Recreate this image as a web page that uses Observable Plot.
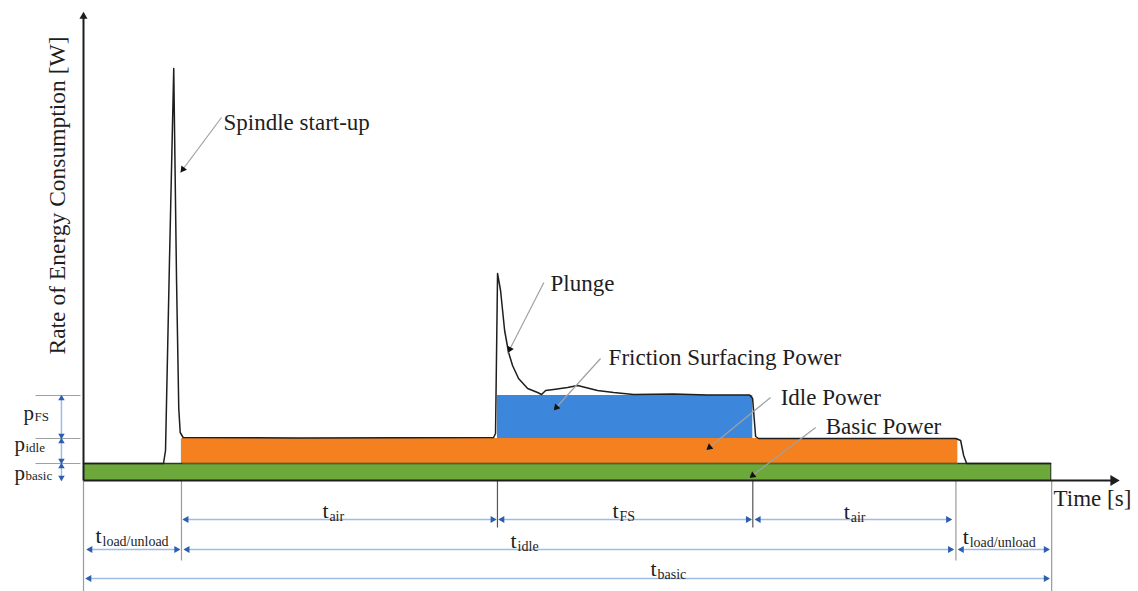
<!DOCTYPE html>
<html>
<head>
<meta charset="utf-8">
<script src="https://cdn.jsdelivr.net/npm/d3@7"></script>
<script src="https://cdn.jsdelivr.net/npm/@observablehq/plot@0.6"></script>
<style>
  html, body { margin: 0; padding: 0; background: #ffffff; }
  #chart svg { display: block; }
</style>
</head>
<body>
<div id="chart"></div>
<script>
// ---- Power bands (time in s, power in W, schematic units) ----
const bandNames = ["basic", "idle", "fs"];
const bandStart = [0, 10.2, 42.8];
const bandEnd   = [100, 90.4, 69.2];
const bandLow   = [0, 4.25, 10.5];
const bandHigh  = [4.25, 10.5, 21.25];

// ---- Measured power curve ----
const curveT = [0, 8.27, 8.48, 8.89, 9.33, 9.62, 9.85, 10.0, 10.3, 22.44, 42.4, 42.6, 42.81, 43.12, 43.54, 43.95, 44.36, 44.98, 45.92, 46.95, 47.36, 47.78, 48.6, 50.05, 51.09, 51.91, 53.15, 54.81, 56.88, 61.01, 64.53, 68.87, 69.18, 69.49, 69.8, 90.18, 90.69, 91.0, 91.31, 100];
const curveP = [4.25, 4.25, 7.5, 55, 103, 50, 18, 12, 10.75, 10.6, 10.75, 11.75, 51.75, 47.5, 37.5, 32, 28.75, 25.5, 23, 22, 21.5, 22.5, 22.75, 23.25, 23.75, 23.25, 22.5, 22, 21.5, 21.6, 21.4, 21.4, 20.5, 11, 10.5, 10.5, 10, 6.25, 4.25, 4.25];

// ---- Annotations ----
const annText  = ["Spindle start-up", "Plunge", "Friction Surfacing Power", "Idle Power", "Basic Power"];
const annTextT = [14.48, 48.29, 54.29, 72.08, 76.73];
const annTextP = [89.5, 49.25, 30.75, 20.75, 13.5];
const annFromT = [14.27, 47.6, 53.46, 71.04, 75.7];
const annFromP = [90.75, 49.5, 30.5, 20.75, 13.25];
const annTipT  = [10.03, 43.85, 48.6, 64.32, 68.77];
const annTipP  = [77, 31.75, 17.5, 7.5, 0.5];

// ---- Time dimensions ----
const dimSub    = ["air", "FS", "air", "load/unload", "idle", "load/unload", "basic"];
const dimStart  = [10.34, 43.0, 69.5, 0.4, 10.45, 90.5, 0.3];
const dimEnd    = [42.6, 69.0, 89.7, 9.9, 89.9, 99.8, 99.8];
const dimLevel  = [-9.75, -9.75, -9.75, -17.25, -17.25, -17.25, -24.5];
const dimLabelT = [24.7, 54.7, 78.6, 1.24, 44.16, 90.9, 58.63];
const dimLabelP = [-7.5, -7.5, -7.75, -13.75, -15, -14, -22];

// ---- Power dimensions ----
const pSub    = ["FS", "idle", "basic"];
const pLow    = [10.5, 4.25, 0];
const pHigh   = [21.25, 10.5, 4.25];
const pLabelT = [-6.2, -7.14, -7.14];
const pLabelP = [16.75, 9.0, 1.9];
const pDimT = -2.28;
const pExtStart = -4.96, pExtEnd = -0.31;

// ---- Extension lines below the time axis ----
const extT      = [0, 10.13, 42.8, 69.2, 90.2, 100.1];
const extTop    = [0, 10.5, 10.5, 10.5, 4.25, 0];
const extBottom = [-27.75, -20, -11.75, -11.75, -20, -27.75];
const extDark   = [false, false, true, true, false, false];

// axis extents
const tMax = 106.7, pMax = 116.5;

// ---------- build tables ----------
const bands = bandNames.map((n, i) => ({name: n, x1: bandStart[i], x2: bandEnd[i], y1: bandLow[i], y2: bandHigh[i]}));
const curve = curveT.map((t, i) => ({t, p: curveP[i]}));
const W = 1138, H = 591, mL = 83, mR = 23, mT = 14, mB = 111;
const kx = (W - mL - mR) / tMax, ky = (H - mT - mB) / pMax;
const ann = annText.map((s, i) => {
  const dx = (annTipT[i] - annFromT[i]) * kx, dy = -(annTipP[i] - annFromP[i]) * ky;
  const f = 0.94;
  return {s, tx: annTextT[i], ty: annTextP[i], x1: annFromT[i], y1: annFromP[i], x2: annTipT[i], y2: annTipP[i],
    hx: annFromT[i] + f * (annTipT[i] - annFromT[i]), hy: annFromP[i] + f * (annTipP[i] - annFromP[i]),
    rot: Math.atan2(dx, -dy) * 180 / Math.PI};
});
const dims = dimSub.map((s, i) => ({s, x1: dimStart[i], x2: dimEnd[i], y: dimLevel[i], lx: dimLabelT[i], ly: dimLabelP[i]}));
const dimHeads = dims.flatMap(d => [
  {x: d.x1 + 0.3, y: d.y, r: -90},
  {x: d.x2 - 0.3, y: d.y, r: 90}
]);
const pDims = pSub.map((s, i) => ({s, y1: pLow[i], y2: pHigh[i], lx: pLabelT[i], ly: pLabelP[i]}));
const pHeads = pDims.flatMap(d => [
  {x: pDimT, y: d.y2 - 0.75, r: 0},
  {x: pDimT, y: d.y1 + 0.75, r: 180}
]);
const exts = extT.map((t, i) => ({t, y1: extTop[i], y2: extBottom[i], dark: extDark[i]}));

const font = "Liberation Serif, Times New Roman, serif";
const ink = "#1e1e1e";

const chart = Plot.plot({
  width: W, height: H,
  marginLeft: mL, marginRight: mR, marginTop: mT, marginBottom: mB,
  x: {domain: [0, tMax], axis: null},
  y: {domain: [0, pMax], axis: null},
  color: {domain: bandNames, range: ["#6da83a", "#f5801f", "#3c87dc"]},
  style: {fontFamily: font, background: "#ffffff", color: ink},
  marks: [
    // extension lines
    Plot.link(exts, {x1: "t", x2: "t", y1: "y1", y2: "y2", stroke: d => d.dark ? "#555" : "#9a9a9a", strokeWidth: 1.2}),
    // power bands
    Plot.rect(bands, {x1: "x1", x2: "x2", y1: "y1", y2: "y2", fill: "name"}),
    Plot.link(bands.filter(b => b.name === "basic"), {x1: "x1", x2: "x2", y1: "y2", y2: "y2", stroke: "#2c3d1c", strokeWidth: 1.5}),
    Plot.link(bands.filter(b => b.name === "basic"), {x1: "x2", x2: "x2", y1: "y1", y2: "y2", stroke: "#2c3d1c", strokeWidth: 1.2}),
    Plot.link(bands.filter(b => b.name === "idle"), {x1: "x1", x2: "x2", y1: "y1", y2: "y1", stroke: "#8a4a14", strokeWidth: 1}),
    // power curve
    Plot.line(curve, {x: "t", y: "p", stroke: ink, strokeWidth: 1.5, curve: "linear"}),
    // axes
    Plot.link([{x1: 0, y1: 0, x2: tMax, y2: 0}], {x1: "x1", y1: "y1", x2: "x2", y2: "y2", stroke: ink, strokeWidth: 2}),
    Plot.link([{x1: 0, y1: 0, x2: 0, y2: pMax}], {x1: "x1", y1: "y1", x2: "x2", y2: "y2", stroke: ink, strokeWidth: 2}),
    Plot.dot([{x: tMax, y: 0}], {x: "x", y: "y", symbol: "triangle", rotate: 90, r: 4, fill: ink, stroke: "none", dx: -2}),
    Plot.dot([{x: 0, y: pMax}], {x: "x", y: "y", symbol: "triangle", rotate: 0, r: 3, fill: ink, stroke: "none", dy: 2}),
    // annotations
    Plot.link(ann, {x1: "x1", y1: "y1", x2: "x2", y2: "y2", stroke: "#a0a0a0", strokeWidth: 1.2}),
    Plot.dot(ann, {x: "hx", y: "hy", symbol: "triangle", rotate: "rot", r: 2.6, fill: "#111", stroke: "none"}),
    Plot.text(ann, {x: "tx", y: "ty", text: "s", textAnchor: "start", fontSize: 23, fill: ink}),
    // axis titles
    Plot.text(["Rate of Energy Consumption [W]"], {x: -2.69, y: 71.25, text: d => d, rotate: -90, fontSize: 23.5, fill: ink}),
    Plot.text(["Time [s]"], {x: 100.3, y: -4.5, text: d => d, textAnchor: "start", fontSize: 23, fill: ink}),
    // time dimensions
    Plot.link(dims, {x1: "x1", x2: "x2", y1: "y", y2: "y", stroke: "#9dbde6", strokeWidth: 1.5}),
    Plot.dot(dimHeads, {x: "x", y: "y", rotate: "r", symbol: "triangle", r: 2.6, fill: "#2b5fae", stroke: "none"}),
    Plot.text(dims, {x: "lx", y: "ly", text: () => "t", textAnchor: "start", fontSize: 22, fill: ink}),
    Plot.text(dims, {x: "lx", y: "ly", text: "s", textAnchor: "start", fontSize: 14, dx: 7, dy: 6, fill: ink}),
    // power dimensions
    Plot.link([{x1: pExtStart, x2: pExtEnd}], {x1: "x1", x2: "x2", y1: 21.25, y2: 21.25, stroke: "#a0a0a0", strokeWidth: 1}),
    Plot.link([{x1: pExtStart, x2: pExtEnd}], {x1: "x1", x2: "x2", y1: 10.5, y2: 10.5, stroke: "#a0a0a0", strokeWidth: 1}),
    Plot.link([{x1: pExtStart, x2: pExtEnd}], {x1: "x1", x2: "x2", y1: 4.25, y2: 4.25, stroke: "#a0a0a0", strokeWidth: 1}),
    Plot.link(pDims, {x1: pDimT, x2: pDimT, y1: "y1", y2: "y2", stroke: "#9dbde6", strokeWidth: 1.5}),
    Plot.dot(pHeads, {x: "x", y: "y", rotate: "r", symbol: "triangle", r: 2.4, fill: "#2b5fae", stroke: "none"}),
    Plot.text(pDims, {x: "lx", y: "ly", text: () => "p", textAnchor: "start", fontSize: 21, fill: ink}),
    Plot.text(pDims, {x: "lx", y: "ly", text: "s", textAnchor: "start", fontSize: 13, dx: 11, dy: 3, fill: ink})
  ]
});
document.getElementById("chart").append(chart);
</script>
</body>
</html>
